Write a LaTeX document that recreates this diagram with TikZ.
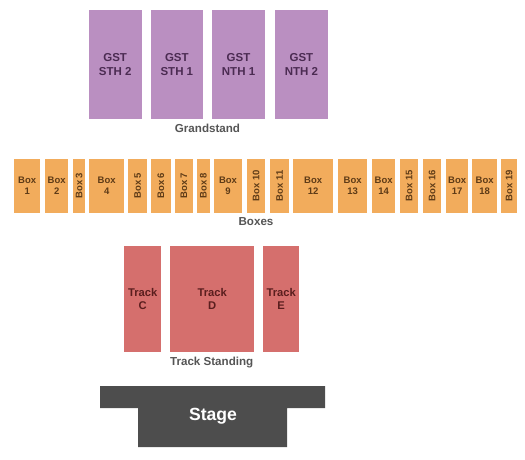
\documentclass[tikz,border=0pt]{standalone}
\usepackage{fontspec}
\setmainfont{Liberation Sans}
\definecolor{gstfill}{HTML}{BA8FC1}
\definecolor{gsttext}{HTML}{4B2B52}
\definecolor{boxfill}{HTML}{F2AC5C}
\definecolor{boxtext}{HTML}{5E3B17}
\definecolor{trkfill}{HTML}{D56F6D}
\definecolor{trktext}{HTML}{5A1E1E}
\definecolor{lbltext}{HTML}{555555}
\definecolor{stagefill}{HTML}{4D4D4D}
\tikzset{
  sect/.style={anchor=north west, inner sep=0pt, align=center, font=\bfseries},
  gst/.style={sect, fill=gstfill, text=gsttext, font=\bfseries\fontsize{11.5}{14}\selectfont},
  bx/.style={sect, fill=boxfill, text=boxtext, font=\bfseries\fontsize{9.5}{11.5}\selectfont},
  trk/.style={sect, fill=trkfill, text=trktext, font=\bfseries\fontsize{11.2}{13.5}\selectfont},
  grp/.style={text=lbltext, inner sep=0pt, font=\bfseries\fontsize{11.6}{14}\selectfont},
}
\newcommand{\sectbox}[7]{\node[#1, minimum width=#5pt, minimum height=#6pt] (#2) at (#3pt,-#4pt) {#7};}
\newcommand{\rotbox}[5]{\node[bx, minimum width=#3pt, minimum height=#4pt] (#1) at (#2pt,-158.3pt) {};
  \node[text=boxtext, font=\bfseries\fontsize{9.5}{11.5}\selectfont, rotate=90, inner sep=0pt] (#1t) at (#1.center) {#5};}
\begin{document}
\begin{tikzpicture}[x=1pt,y=1pt]
\useasboundingbox (0,0) rectangle (525,-460);
% Grandstand
\sectbox{gst}{sth2}{88.7}{10}{52.6}{108.7}{GST\\STH 2}
\sectbox{gst}{sth1}{150.3}{10}{52.7}{108.7}{GST\\STH 1}
\sectbox{gst}{nth1}{212}{10}{52.7}{108.7}{GST\\NTH 1}
\sectbox{gst}{nth2}{274.7}{10}{53}{108.7}{GST\\NTH 2}
\node[grp] (grand) at (207.5,-128) {Grandstand};
% Boxes
\sectbox{bx}{b1}{14}{158.3}{26}{54.4}{Box\\1}
\sectbox{bx}{b2}{45}{158.3}{23}{54.4}{Box\\2}
\rotbox{b3}{73}{12}{54.4}{Box 3}
\sectbox{bx}{b4}{89}{158.3}{35}{54.4}{Box\\4}
\rotbox{b5}{128}{19}{54.4}{Box 5}
\rotbox{b6}{151}{19.3}{54.4}{Box 6}
\rotbox{b7}{175}{17.3}{54.4}{Box 7}
\rotbox{b8}{197}{12.3}{54.4}{Box 8}
\sectbox{bx}{b9}{213.7}{158.3}{28.3}{54.4}{Box\\9}
\rotbox{b10}{247}{18}{54.4}{Box 10}
\rotbox{b11}{270}{19}{54.4}{Box 11}
\sectbox{bx}{b12}{293}{158.3}{40}{54.4}{Box\\12}
\sectbox{bx}{b13}{338}{158.3}{29}{54.4}{Box\\13}
\sectbox{bx}{b14}{372}{158.3}{23}{54.4}{Box\\14}
\rotbox{b15}{400}{18}{54.4}{Box 15}
\rotbox{b16}{423}{18}{54.4}{Box 16}
\sectbox{bx}{b17}{446}{158.3}{22}{54.4}{Box\\17}
\sectbox{bx}{b18}{472}{158.3}{25}{54.4}{Box\\18}
\rotbox{b19}{501}{16}{54.4}{Box 19}
\node[grp] (boxes) at (256,-222) {Boxes};
% Track
\sectbox{trk}{tc}{124}{246}{37}{105.7}{Track\\C}
\sectbox{trk}{td}{170}{246}{84}{105.7}{Track\\D}
\sectbox{trk}{te}{263}{246}{36}{105.7}{Track\\E}
\node[grp] (tstand) at (211.7,-362.5) {Track Standing};
% Stage
\fill[stagefill] (100,-386) -- (325,-386) -- (325,-408) -- (287,-408) -- (287,-447) -- (138,-447) -- (138,-408) -- (100,-408) -- cycle;
\node[text=white, inner sep=0pt, font=\bfseries\fontsize{17.6}{20}\selectfont] (stage) at (213,-416.5) {Stage};
\end{tikzpicture}
\end{document}
